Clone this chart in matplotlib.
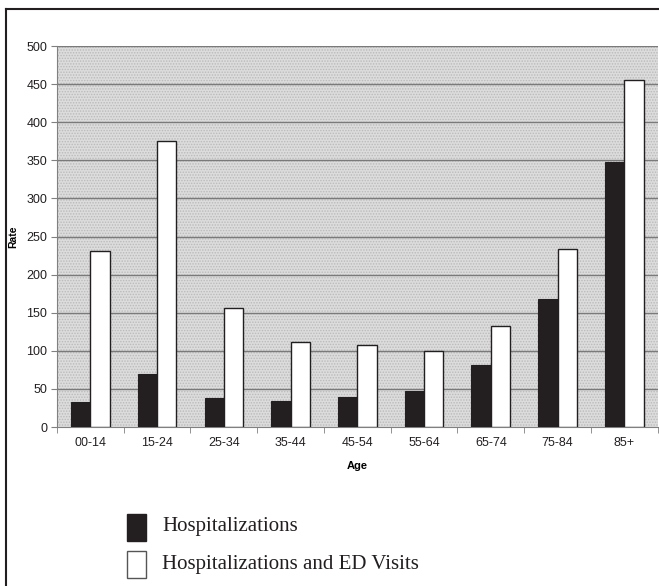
import matplotlib
matplotlib.use("Agg")
import matplotlib.pyplot as plt
import numpy as np
from matplotlib.patches import Rectangle
from matplotlib.lines import Line2D

categories = ["00-14", "15-24", "25-34", "35-44", "45-54", "55-64", "65-74", "75-84", "85+"]
hosp = [33, 69, 38, 34, 40, 47, 81, 168, 348]
hosp_ed = [231, 375, 156, 112, 108, 99.5, 132, 234, 455]
yticks = [0, 50, 100, 150, 200, 250, 300, 350, 400, 450, 500]

plt.rcParams['hatch.linewidth'] = 0.7
fig = plt.figure(figsize=(6.59, 5.86), dpi=100)
ax = fig.add_axes([0.0865, 0.2713, 0.9115, 0.6502])

x = np.arange(len(categories))
w = 0.29
ax.set_xlim(-0.5, len(categories) - 0.5)
ax.set_ylim(0, 500)

# textured background
ax.set_facecolor("#dcdcdc")
ax.add_patch(Rectangle((0, 0), 1, 1, transform=ax.transAxes, facecolor="none",
                       hatch="......", edgecolor="#bababa", linewidth=0, zorder=0))

for y in yticks[1:]:
    ax.axhline(y, color="#7a7a7a", linewidth=1.0, zorder=1)

ax.bar(x - w / 2, hosp, width=w, color="#231f20", edgecolor="#231f20", linewidth=0.8, zorder=3)
ax.bar(x + w / 2, hosp_ed, width=w, color="white", edgecolor="#231f20", linewidth=1.0, zorder=3)

for s in ["top", "right"]:
    ax.spines[s].set_visible(False)
ax.spines["left"].set_color("#808080")
ax.spines["bottom"].set_color("#808080")

ax.set_yticks(yticks)
ax.set_yticklabels([str(v) for v in yticks], fontsize=9, family="Liberation Sans", color="#231f20")
ax.set_xticks(x)
ax.set_xticklabels(categories, fontsize=9, family="Liberation Sans", color="#231f20")
ax.tick_params(axis="x", length=0, pad=7)
ax.tick_params(axis="y", length=4, color="#808080", pad=3)
ax.set_xticks(np.arange(len(categories) + 1) - 0.5, minor=True)
ax.tick_params(axis="x", which="minor", length=4, color="#808080")

ax.set_ylabel("Rate", fontsize=7.5, fontweight="bold", family="Liberation Sans", labelpad=6)
ax.set_xlabel("Age", fontsize=8, fontweight="bold", family="Liberation Sans", labelpad=9)

# outer frame (left and top edges)
fig.add_artist(Line2D([6 / 659, 6 / 659], [0, 1 - 9 / 586], transform=fig.transFigure,
                      color="#231f20", linewidth=1.5))
fig.add_artist(Line2D([6 / 659, 1], [1 - 9 / 586, 1 - 9 / 586], transform=fig.transFigure,
                      color="#231f20", linewidth=1.5))

# legend
legend_labels = ["Hospitalizations", "Hospitalizations and ED Visits"]
legend_colors = ["#231f20", "white"]
legend_y = [527, 564]
for lab, col, yc in zip(legend_labels, legend_colors, legend_y):
    fig.add_artist(Rectangle((127 / 659, 1 - (yc + 13.5) / 586), 19 / 659, 27 / 586,
                             transform=fig.transFigure, facecolor=col,
                             edgecolor="#231f20" if col != "white" else "#555555", linewidth=1.0))
    fig.text(162 / 659, 1 - yc / 586, lab, fontsize=15, family="Liberation Serif",
             va="center", ha="left", color="#231f20")

fig.savefig("out.png", dpi=100)
